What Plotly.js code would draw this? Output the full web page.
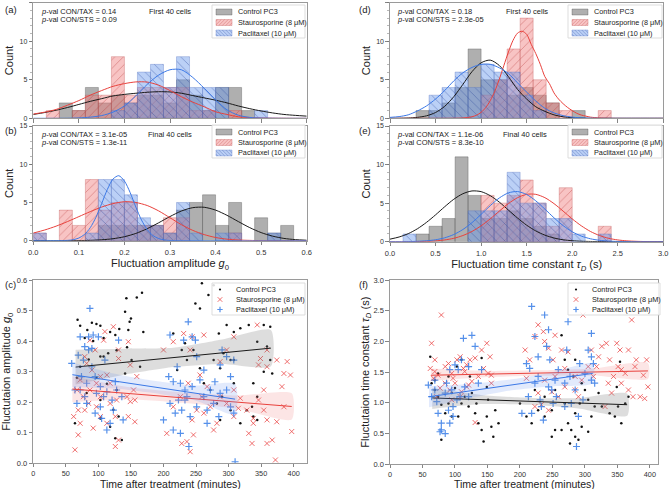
<!DOCTYPE html>
<html><head><meta charset="utf-8">
<script src="https://cdn.plot.ly/plotly-3.0.1.min.js"></script>
<style>html,body{margin:0;padding:0;background:#fff}#plot{width:669px;height:489px}</style>
</head><body><div id="plot"></div>
<script>
// ---------------- DATA ----------------
const seriesNames = ['Control PC3', 'Staurosporine (8 μM)', 'Paclitaxel (10 μM)'];
// histogram bins: 21 bins over each axis range
const g0BinCount = 21, g0Max = 0.6;
const tauBinCount = 21, tauMax = 3.0;

// (a) first 40 cells, amplitude g0 counts per bin
const ctrlA = [0,0,2,1,4,2,3,2,3,3,2,5,3,1,4,4,1,0,0,0,0];
const stsA  = [0,1,0,1,3,3,8,3,4,4,4,4,1,1,0,1,0,0,0,0,0];
const taxA  = [0,0,0,0,0,0,1,2,6,7,4,8,4,4,4,0,0,1,0,0,0];
// (b) final 40 cells
const ctrlB = [0,0,0,0,0,2,2,2,2,2,1,4,5,6,2,5,0,3,1,2,0];
const stsB  = [1,0,4,2,8,4,5,5,2,2,3,3,0,0,0,1,0,0,0,0,0];
const taxB  = [1,0,0,0,1,8,8,6,3,2,1,5,1,0,1,1,0,0,1,0,0];
// (d) first 40 cells, tau_D
const ctrlD = [0,0,1,1,2,4,9,5,5,3,4,3,2,0,1,0,0,0,0,0,0];
const stsD  = [0,0,0,0,0,0,0,3,5,9,13,5,2,1,0,0,1,0,0,0,0];
const taxD  = [0,0,0,3,4,6,4,7,6,6,3,1,0,0,0,0,0,0,0,0,0];
// (e) final 40 cells
const ctrlE = [0,0,1,2,3,11,6,3,3,4,3,2,1,0,0,0,0,0,0,0,0];
const stsE  = [0,0,0,0,0,0,0,6,5,6,8,5,2,7,0,0,2,0,0,0,0];
const taxE  = [0,1,0,0,0,0,4,4,4,9,5,5,3,3,1,0,1,0,0,0,0];

// fitted density curves
const fitGx = [0,.025,.05,.075,.1,.125,.15,.175,.2,.225,.25,.275,.3,.325,.35,.375,.4,.425,.45,.475,.5,.525,.55,.575,.6];
const fitA_ctrl = [0.5,0.75,1.05,1.4,1.8,2.2,2.55,2.9,3.1,3.25,3.38,3.45,3.42,3.25,2.95,2.65,2.35,2.0,1.6,1.25,0.95,0.7,0.5,0.38,0.28];
const fitA_sts  = [0.55,0.8,1.15,1.7,2.3,3.0,3.6,4.15,4.5,4.72,4.7,4.3,3.6,2.8,2.1,1.5,0.85,0.5,0.2,0.1,0.04,0.02,0.01,0,0];
const fitA_tax  = [0,0,0,0,0.05,0.15,0.35,0.8,1.6,2.9,4.4,5.6,6.3,6.3,5.3,3.9,2.4,1.1,0.4,0.12,0.03,0.01,0,0,0];
const fitB_ctrl = [0,0,0,0,0.02,0.05,0.12,0.26,0.52,0.95,1.57,2.34,3.16,3.88,4.32,4.37,4.0,3.32,2.5,1.71,1.06,0.6,0.3,0.14,0.06];
const fitB_sts  = [1.0,1.4,1.9,2.5,3.15,3.8,4.4,4.85,5.1,5.0,4.6,3.9,3.0,2.1,1.35,0.8,0.42,0.2,0.09,0.04,0.01,0,0,0,0];
const fitB_taxX = [0,.075,.0875,.1,.1125,.125,.1375,.15,.1625,.175,.1875,.2,.2125,.225,.2375,.25,.2625,.275,.2875,.3,.6];
const fitB_tax  = [0,0.04,0.13,0.35,0.82,1.7,3.06,4.85,6.7,8.07,8.5,7.8,6.3,4.4,2.7,1.45,0.68,0.28,0.1,0.03,0];

const fitTx = [0,.1,.2,.3,.4,.5,.6,.7,.8,.9,1.0,1.1,1.2,1.3,1.4,1.5,1.6,1.7,1.8,1.9,2.0,2.1,2.2,2.3,2.4,2.5,2.6,2.7,2.8,2.9,3.0];
const fitD_ctrl = [0,0.01,0.04,0.12,0.32,0.75,1.55,2.8,4.4,6.05,7.2,7.55,6.85,5.4,3.75,2.5,1.5,0.9,0.45,0.2,0.08,0.03,0,0,0,0,0,0,0,0,0];
const fitD_tax  = [0.12,0.22,0.45,0.95,1.6,2.5,3.6,4.85,5.9,6.6,7.0,7.0,6.55,5.8,4.6,3.4,2.25,1.3,0.7,0.35,0.15,0.06,0.02,0,0,0,0,0,0,0,0];
const fitD_stsX = [0,.7,.8,.9,.95,1.0,1.05,1.1,1.15,1.2,1.25,1.3,1.35,1.4,1.45,1.5,1.55,1.6,1.65,1.7,1.75,1.8,1.85,1.9,1.95,2.0,2.05,2.1,2.15,2.2,2.3,2.4,3.0];
const fitD_sts  = [0,0.006,0.04,0.2,0.4,0.77,1.38,2.28,3.5,5.08,6.85,8.6,10.1,11.05,11.3,10.9,9.6,8.4,7.0,5.4,4.5,3.3,2.5,1.9,1.4,1.0,0.65,0.42,0.28,0.15,0.05,0.01,0];
const fitE_ctrl = [0.33,0.61,1.04,1.67,2.5,3.48,4.53,5.5,6.22,6.58,6.49,5.97,5.13,4.1,3.07,2.14,1.4,0.85,0.48,0.25,0.13,0.06,0.03,0.01,0,0,0,0,0,0,0];
const fitE_tax  = [0,0,0.01,0.05,0.12,0.25,0.5,0.93,1.58,2.47,3.54,4.67,5.67,6.33,6.5,6.12,5.3,4.23,3.1,2.09,1.29,0.73,0.38,0.18,0.08,0.03,0.01,0,0,0,0];
const fitE_sts  = [0,0,0,0.01,0.05,0.11,0.23,0.44,0.8,1.33,2.06,2.96,3.97,4.94,5.71,6.14,6.14,5.71,4.94,3.97,2.96,2.06,1.33,0.8,0.44,0.23,0.11,0.05,0.02,0.01,0];

// p-values and annotations
const pvals = {a:['0.14','0.09'], b:['3.1e-05','1.3e-11'], d:['0.18','2.3e-05'], e:['1.1e-06','8.3e-10']};
const cellLabels = ['First 40 cells','Final 40 cells'];
const timeTitle = 'Time after treatment (minutes)';

// (c) scatter: [time (min), g0]
const ctrlC = [[68,.47],[72,.45],[83,.436],[90,.46],[97,.456],[103,.45],[79,.41],[108,.41],[118,.43],[126,.42],[132,.44],[143,.54],[141,.496],[148,.463],[150,.474],[146,.436],[159,.543],[167,.558],[169,.43],[144,.38],[128,.37],[115,.36],[103,.35],[85,.34],[72,.316],[67,.28],[97,.28],[113,.26],[128,.24],[82,.23],[103,.207],[123,.175],[131,.153],[118,.12],[126,.082],[136,.076],[108,.35],[151,.338],[164,.316],[141,.294],[92,.40],[64,.131],[103,.147],
[259,.589],[269,.551],[277,.583],[249,.523],[256,.507],[285,.425],[297,.453],[308,.43],[318,.442],[331,.453],[354,.453],[364,.447],[344,.398],[359,.382],[364,.338],[354,.3],[367,.294],[338,.262],[344,.218],[336,.185],[338,.153],[318,.131],[303,.174],[290,.218],[277,.338],[292,.36],[303,.338],[256,.311],[236,.338],[228,.371],[221,.305],[246,.371],[262,.262],[272,.24],[287,.311],[308,.338],[215,.425],[233,.393],[282,.196],[308,.262],[328,.174],[344,.142],[287,.142]];
const stsC = [[64,.044],[69,.093],[72,.131],[62,.153],[69,.174],[79,.174],[85,.196],[77,.218],[87,.24],[97,.262],[103,.284],[79,.349],[82,.327],[87,.403],[95,.371],[108,.403],[110,.431],[123,.447],[131,.371],[131,.343],[146,.398],[149,.322],[159,.284],[154,.24],[149,.202],[156,.207],[144,.218],[128,.207],[118,.196],[126,.153],[126,.055],[131,.076],[103,.218],[97,.185],[113,.131],[92,.115],[103,.153],[67,.24],[72,.273],[113,.289],[90,.305],[146,.153],[156,.136],[118,.262],
[200,.371],[215,.398],[231,.425],[244,.414],[262,.42],[241,.371],[256,.289],[238,.262],[226,.218],[215,.185],[205,.098],[228,.065],[236,.071],[246,.093],[241,.038],[262,.164],[272,.185],[287,.218],[297,.196],[308,.24],[318,.213],[282,.131],[277,.109],[308,.153],[315,.18],[328,.174],[338,.147],[331,.098],[336,.065],[346,.207],[354,.24],[359,.316],[346,.322],[349,.343],[359,.371],[344,.453],[374,.338],[385,.294],[390,.333],[395,.289],[382,.251],[385,.185],[397,.104],[374,.136],[367,.076],[359,.065],[372,.011],[354,.174],[359,.142],[338,.131],[287,.333],[297,.371],[308,.414],[267,.251],[259,.218],[251,.174],[244,.142]];
const taxC = [[59,.327],[69,.354],[72,.414],[79,.382],[85,.371],[90,.376],[87,.507],[92,.42],[100,.414],[74,.284],[82,.262],[95,.284],[103,.251],[97,.229],[108,.218],[113,.234],[103,.185],[105,.147],[113,.109],[118,.131],[123,.174],[131,.403],[128,.24],[121,.207],[95,.164],[82,.196],[72,.24],[67,.196],[126,.267],[136,.218],[138,.142],[77,.338],[90,.316],[110,.338],[64,.24],[85,.414],[79,.218],
[210,.42],[208,.284],[215,.267],[221,.316],[226,.262],[233,.24],[238,.463],[244,.414],[249,.403],[251,.349],[233,.207],[228,.174],[218,.164],[210,.196],[200,.142],[215,.109],[226,.098],[239,.055],[241,.153],[251,.185],[262,.218],[272,.24],[279,.267],[287,.322],[290,.371],[297,.349],[308,.338],[303,.284],[297,.24],[287,.229],[277,.196],[267,.174],[303,.185],[308,.164],[310,.005],[256,.273],[262,.305],[231,.403],[236,.218],[244,.251],[285,.153],[267,.131],[223,.207]];

// (f) scatter: [time (min), tau_D (s)]
const ctrlF = [[62,1.75],[64,1.32],[69,1.21],[74,1.1],[79,.97],[85,.83],[79,.4],[90,.99],[95,1.16],[100,1.24],[105,.78],[110,.99],[115,1.1],[121,.94],[126,1.16],[131,.83],[136,.67],[141,.56],[144,.37],[149,.78],[151,1.05],[156,.61],[159,.45],[162,.88],[167,.67],[123,1.43],[110,1.7],[103,1.59],[90,1.43],[74,1.48],[69,1.37],[95,.78],[133,.99],[149,1.26],[141,1.73],
[200,.99],[210,.78],[218,.67],[228,.88],[238,.78],[249,.88],[254,.56],[264,.56],[274,.67],[279,.56],[285,.45],[290,.4],[295,.61],[305,.53],[310,.78],[315,.94],[300,1.21],[295,1.32],[282,1.43],[274,1.54],[264,2.1],[269,1.7],[285,1.7],[292,.99],[305,1.05],[321,1.16],[326,.94],[338,.83],[346,.78],[351,.94],[356,.67],[362,.99],[367,1.1],[354,1.67],[349,1.26],[238,1.1],[223,1.21],[254,1.21],[269,.99],[285,.83],[249,.45],[277,.34]];
const stsF = [[64,1.97],[62,1.56],[69,1.7],[67,1.4],[74,1.45],[79,2.43],[85,1.59],[90,1.64],[95,1.48],[103,1.7],[108,1.75],[113,1.56],[118,1.62],[123,1.7],[131,1.73],[141,1.86],[149,1.97],[154,1.75],[156,1.45],[144,1.56],[136,1.43],[126,1.35],[118,1.26],[110,1.18],[100,1.32],[92,1.21],[85,1.32],[77,1.24],[72,1.1],[95,1.05],[108,1.1],[121,1.29],[131,.68],[69,1.51],[97,1.4],[115,1.51],[151,1.48],[156,1.32],
[208,1.86],[215,1.7],[210,1.4],[223,2.08],[228,2.27],[236,2.16],[238,2.0],[244,1.89],[251,1.7],[254,2.1],[264,1.86],[274,1.83],[269,1.56],[254,1.43],[238,1.37],[228,1.16],[233,.97],[244,.88],[259,1.1],[269,1.26],[285,1.43],[295,1.37],[297,2.43],[285,1.21],[290,1.1],[305,1.59],[310,1.86],[313,1.43],[321,1.75],[326,1.92],[333,1.97],[338,1.7],[344,1.43],[349,1.97],[354,1.86],[356,1.54],[362,1.48],[367,1.21],[372,2.35],[379,1.7],[385,1.1],[390,1.45],[395,1.7],[397,1.26],[374,1.1],[367,1.86],[351,1.59],[341,1.16],[331,.94],[318,1.59],[336,1.32],[356,1.32],[377,1.59],[392,1.07],[249,1.18],[223,.94]];
const taxF = [[59,1.29],[64,1.1],[69,1.21],[72,1.02],[74,.83],[79,.67],[77,.53],[85,.5],[79,.56],[85,1.16],[90,.88],[92,.67],[97,.78],[97,.94],[103,1.05],[105,1.54],[110,1.7],[113,2.05],[115,1.26],[126,2.1],[131,1.92],[136,1.32],[141,1.54],[121,1.59],[100,1.62],[92,1.54],[87,1.32],[69,1.37],[95,1.21],[108,1.1],[121,1.1],
[203,.83],[210,1.64],[215,1.56],[218,2.57],[223,2.08],[228,1.75],[231,1.05],[236,.72],[238,2.43],[244,2.19],[241,1.92],[246,1.7],[249,1.21],[254,1.37],[251,.99],[256,1.1],[259,1.54],[269,1.32],[272,1.86],[274,2.32],[277,1.43],[285,1.21],[292,1.64],[297,1.05],[305,1.86],[310,2.13],[313,1.64],[287,.29],[290,.78],[310,1.37],[315,1.32],[223,1.32],[233,.94],[244,1.26],[213,1.1],[218,.83],[228,1.43],[269,.94],[279,.99],[300,1.48],[310,1.75]];

// regression lines with confidence bands: time, fit, lower, upper
const regC_ctrl = {t:[65,140,215,290,365], fit:[.315,.33,.346,.361,.377], lo:[.258,.29,.315,.325,.318], hi:[.372,.375,.378,.405,.436]};
const regC_sts  = {t:[60,145,230,315,397], fit:[.243,.229,.214,.200,.186], lo:[.2,.21,.198,.178,.143], hi:[.285,.25,.232,.222,.229]};
const regC_tax  = {t:[60,125,185,250,310], fit:[.29,.269,.25,.229,.21], lo:[.25,.245,.23,.205,.16], hi:[.33,.293,.27,.255,.26]};
const regF_ctrl = {t:[65,140,215,290,365], fit:[1.08,1.053,1.025,.998,.97], lo:[.9,.98,.97,.91,.79], hi:[1.24,1.13,1.08,1.08,1.15]};
const regF_sts  = {t:[63,150,230,315,397], fit:[1.45,1.468,1.485,1.503,1.52], lo:[1.36,1.42,1.44,1.445,1.39], hi:[1.56,1.52,1.53,1.56,1.65]};
const regF_tax  = {t:[60,125,185,250,312], fit:[1.1,1.198,1.289,1.387,1.48], lo:[.93,1.08,1.2,1.27,1.32], hi:[1.27,1.31,1.38,1.5,1.64]};

// ---------------- STYLE ----------------
const W = 669, H = 489;
const FONT = 'Liberation Sans, Arial, sans-serif';
const COL = {
  ctrlBar:'rgba(110,110,110,0.55)', ctrlEdge:'rgba(70,70,70,0.55)',
  stsBar:'rgba(240,125,125,0.45)', stsHatch:'rgba(180,50,50,0.6)', stsEdge:'rgba(190,80,80,0.55)',
  taxBar:'rgba(105,150,235,0.45)', taxHatch:'rgba(35,65,150,0.6)', taxEdge:'rgba(80,110,190,0.55)',
  ctrlLine:'#1a1a1a', stsLine:'#e8413c', taxLine:'#3b78e6',
  stsMark:'rgba(235,70,70,0.78)', taxMark:'rgba(55,125,230,0.85)'
};

const traces = [];
function hist(series, nb, max, xa, ya){
  const w = max / nb;
  const xs = series[0].map((_, i) => (i + 0.5) * w);
  const nz = c => c.map(v => v === 0 ? null : v);
  const styles = [
    {color: COL.ctrlBar, line:{color:COL.ctrlEdge, width:0.6}},
    {color: COL.stsBar, line:{color:COL.stsEdge, width:0.6}, pattern:{shape:'/', fgcolor:COL.stsHatch, bgcolor:COL.stsBar, size:6, solidity:0.1}},
    {color: COL.taxBar, line:{color:COL.taxEdge, width:0.6}, pattern:{shape:'\\', fgcolor:COL.taxHatch, bgcolor:COL.taxBar, size:6, solidity:0.1}}
  ];
  series.forEach((c, k) => traces.push({type:'bar', x:xs, y:nz(c), width:w, marker:styles[k], name:seriesNames[k],
    xaxis:xa, yaxis:ya, showlegend:false, hoverinfo:'skip'}));
}
function curve(x, y, color, xa, ya){
  traces.push({type:'scatter', mode:'lines', x, y, line:{color, width:1, shape:'spline', smoothing:0.8}, xaxis:xa, yaxis:ya, showlegend:false, hoverinfo:'skip'});
}
function scatter(pts, k, xa, ya){
  const mk = [
    {symbol:'circle', size:2.5, color:'#111'},
    {symbol:'x-thin-open', size:5, color:COL.stsMark, line:{color:COL.stsMark, width:1}},
    {symbol:'cross-thin-open', size:5, color:COL.taxMark, line:{color:COL.taxMark, width:1.2}}
  ][k];
  traces.push({type:'scatter', mode:'markers', x:pts.map(p=>p[0]), y:pts.map(p=>p[1]), marker:mk, name:seriesNames[k],
    xaxis:xa, yaxis:ya, showlegend:false, hoverinfo:'skip'});
}
function reg(r, line, fill, xa, ya){
  traces.push({type:'scatter', mode:'lines', x:r.t.concat(r.t.slice().reverse()), y:r.hi.concat(r.lo.slice().reverse()),
    fill:'toself', fillcolor:fill, line:{width:0, shape:'spline', smoothing:0.6}, xaxis:xa, yaxis:ya, showlegend:false, hoverinfo:'skip'});
  traces.push({type:'scatter', mode:'lines', x:r.t, y:r.fit, line:{color:line, width:1}, xaxis:xa, yaxis:ya, showlegend:false, hoverinfo:'skip'});
}

// (a)
hist([ctrlA, stsA, taxA], g0BinCount, g0Max, 'x', 'y');
curve(fitGx, fitA_ctrl, COL.ctrlLine, 'x', 'y');
curve(fitGx, fitA_sts, COL.stsLine, 'x', 'y');
curve(fitGx, fitA_tax, COL.taxLine, 'x', 'y');
// (b)
hist([ctrlB, stsB, taxB], g0BinCount, g0Max, 'x2', 'y2');
curve(fitGx, fitB_ctrl, COL.ctrlLine, 'x2', 'y2');
curve(fitGx, fitB_sts, COL.stsLine, 'x2', 'y2');
curve(fitB_taxX, fitB_tax, COL.taxLine, 'x2', 'y2');
// (c)
scatter(ctrlC, 0, 'x3', 'y3');
scatter(stsC, 1, 'x3', 'y3');
scatter(taxC, 2, 'x3', 'y3');
reg(regC_ctrl, COL.ctrlLine, 'rgba(120,120,120,0.25)', 'x3', 'y3');
reg(regC_sts, COL.stsLine, 'rgba(240,110,110,0.18)', 'x3', 'y3');
reg(regC_tax, COL.taxLine, 'rgba(110,150,240,0.2)', 'x3', 'y3');
// (d)
hist([ctrlD, stsD, taxD], tauBinCount, tauMax, 'x4', 'y4');
curve(fitTx, fitD_ctrl, COL.ctrlLine, 'x4', 'y4');
curve(fitD_stsX, fitD_sts, COL.stsLine, 'x4', 'y4');
curve(fitTx, fitD_tax, COL.taxLine, 'x4', 'y4');
// (e)
hist([ctrlE, stsE, taxE], tauBinCount, tauMax, 'x5', 'y5');
curve(fitTx, fitE_ctrl, COL.ctrlLine, 'x5', 'y5');
curve(fitTx, fitE_sts, COL.stsLine, 'x5', 'y5');
curve(fitTx, fitE_tax, COL.taxLine, 'x5', 'y5');
// (f)
scatter(ctrlF, 0, 'x6', 'y6');
scatter(stsF, 1, 'x6', 'y6');
scatter(taxF, 2, 'x6', 'y6');
reg(regF_ctrl, COL.ctrlLine, 'rgba(120,120,120,0.25)', 'x6', 'y6');
reg(regF_sts, COL.stsLine, 'rgba(240,110,110,0.18)', 'x6', 'y6');
reg(regF_tax, COL.taxLine, 'rgba(110,150,240,0.2)', 'x6', 'y6');

// ---------------- LAYOUT ----------------
const px = v => v / W, py = v => 1 - v / H;
const base = {showline:true, mirror:true, linecolor:'#9a9a9a', linewidth:1.1, ticks:'outside', ticklen:3.5, tickwidth:0.8,
  tickcolor:'#666', tickfont:{size:7.5, color:'#333', family:FONT}, zeroline:false, showgrid:false, automargin:false, fixedrange:true};
const titleFont = {size:11, color:'#222', family:FONT};
const countAx = (dom, shift) => Object.assign({}, base, {domain:dom, range:[0,15], tickvals:[0,5,10,15],
  tickfont:{size:7, color:'#333', family:FONT}, ticklabelshift:shift,
  minor:{dtick:1, ticks:'outside', ticklen:2, tickcolor:'#888', tickwidth:0.6},
  title:{text:'Count', font:titleFont, standoff:3}});
const g0Ax = (dom, labels, anchor) => Object.assign({}, base, {domain:dom, range:[0,0.6], dtick:0.1, tickformat:'.1f', showticklabels:labels, anchor});
const tauAx = (dom, labels, anchor) => Object.assign({}, base, {domain:dom, range:[0,3], dtick:0.5, tickformat:'.1f', showticklabels:labels, anchor});
const timeAx = (dom, range, anchor) => Object.assign({}, base, {domain:dom, range, dtick:50, anchor, ticklen:3,
  tickfont:{size:7.3, color:'#333', family:FONT}});

const leftX = [px(33.3), px(306.7)], rightX = [px(390), px(663.3)];
const layout = {
  width:W, height:H, margin:{l:0, r:0, t:0, b:0}, paper_bgcolor:'#fff', plot_bgcolor:'#fff',
  barmode:'overlay', bargap:0, font:{family:FONT, color:'#222'}, showlegend:false,
  xaxis: g0Ax(leftX, false, 'y'),
  yaxis: Object.assign(countAx([py(118.3), py(2.7)], 1.5), {anchor:'x'}),
  xaxis2: Object.assign(g0Ax(leftX, true, 'y2'), {ticklabelstandoff:1, title:{text:'Fluctuation amplitude <i>g</i><sub>0</sub>', font:titleFont, standoff:0}}),
  yaxis2: Object.assign(countAx([py(240.7), py(126)], -1.5), {anchor:'x2'}),
  xaxis3: timeAx(leftX, [0,420], 'y3'),
  yaxis3: Object.assign({}, base, {domain:[py(463.3), py(280)], range:[0,0.6], dtick:0.1, tickformat:'.1f', anchor:'x3',
    title:{text:'Fluctutaion amplitude <i>g</i><sub>0</sub>', font:titleFont, standoff:3}}),
  xaxis4: tauAx(rightX, false, 'y4'),
  yaxis4: Object.assign(countAx([py(118.3), py(2.7)], 1.5), {anchor:'x4'}),
  xaxis5: Object.assign(tauAx(rightX, true, 'y5'), {ticklabelstandoff:1, title:{text:'Fluctuation time constant <i>τ<sub>D</sub></i> (s)', font:titleFont, standoff:0}}),
  yaxis5: Object.assign(countAx([py(241.7), py(126)], -1.5), {anchor:'x5'}),
  xaxis6: timeAx([px(390), px(657.7)], [0,412], 'y6'),
  yaxis6: Object.assign({}, base, {domain:[py(464.3), py(280)], range:[0,3], dtick:0.5, tickformat:'.1f', anchor:'x6',
    title:{text:'Fluctutaion time constant <i>τ<sub>D</sub></i> (s)', font:titleFont, standoff:1}}),
  annotations: [],
  shapes: []
};

function ann(text, x, y, opts){
  layout.annotations.push(Object.assign({text, x:px(x), y:py(y), xref:'paper', yref:'paper', showarrow:false,
    xanchor:'left', yanchor:'middle', font:{size:7.5, color:'#222', family:FONT}}, opts || {}));
}
function rect(x0, y0, x1, y1, fill, line, lw){
  layout.shapes.push({type:'rect', xref:'paper', yref:'paper', x0:px(x0), x1:px(x1), y0:py(y1), y1:py(y0),
    fillcolor:fill, line:{color:line, width:lw}, layer:'above'});
}
function pathShape(d, color, lw){
  layout.shapes.push({type:'path', xref:'paper', yref:'paper', path:d, line:{color, width:lw}, layer:'above'});
}
function hatch(x0, y0, x1, y1, dir, step){
  let d = '';
  const P = (x, y) => px(x).toFixed(5) + ',' + py(y).toFixed(5);
  if (dir === '/') {
    for (let k = x0 + y0 + step / 2; k < x1 + y1; k += step) {
      const xa = Math.max(x0, k - y1), xb = Math.min(x1, k - y0);
      if (xb > xa) d += 'M' + P(xa, k - xa) + 'L' + P(xb, k - xb);
    }
  } else {
    for (let k = x0 - y1 + step / 2; k < x1 - y0; k += step) {
      const xa = Math.max(x0, k + y0), xb = Math.min(x1, k + y1);
      if (xb > xa) d += 'M' + P(xa, xa - k) + 'L' + P(xb, xb - k);
    }
  }
  return d;
}
const legFont = {size:7.3, color:'#222', family:FONT};
// legend for histogram panels (box in pixel coords)
function histLegend(bx0, by0, bx1, by1){
  rect(bx0, by0, bx1, by1, 'rgba(255,255,255,0.85)', '#d4d4d4', 0.8);
  const sx0 = bx0 + 4, sx1 = bx0 + 20, tx = bx0 + 24;
  const ys = [by0 + 7, by0 + 17.5, by0 + 28];
  rect(sx0, ys[0] - 3, sx1, ys[0] + 3, COL.ctrlBar, COL.ctrlEdge, 0.6);
  rect(sx0, ys[1] - 3, sx1, ys[1] + 3, COL.stsBar, COL.stsEdge, 0.6);
  pathShape(hatch(sx0, ys[1] - 3, sx1, ys[1] + 3, '/', 3.5), COL.stsHatch, 0.5);
  rect(sx0, ys[2] - 3, sx1, ys[2] + 3, COL.taxBar, COL.taxEdge, 0.6);
  pathShape(hatch(sx0, ys[2] - 3, sx1, ys[2] + 3, '\\', 3.5), COL.taxHatch, 0.5);
  ys.forEach((y, k) => ann(seriesNames[k], tx, y, {font:legFont}));
}
// legend for scatter panels
function scatLegend(bx0, by0, bx1, by1){
  rect(bx0, by0, bx1, by1, 'rgba(255,255,255,0.85)', '#d4d4d4', 0.8);
  const sx = bx0 + 8, tx = bx0 + 22;
  const ys = [by0 + 6.5, by0 + 16.5, by0 + 26.5];
  layout.shapes.push({type:'circle', xref:'paper', yref:'paper', x0:px(sx - 1.1), x1:px(sx + 1.1), y0:py(ys[0] + 1.1), y1:py(ys[0] - 1.1),
    fillcolor:'#111', line:{width:0}, layer:'above'});
  const r = 2.3;
  const P = (x, y) => px(x).toFixed(5) + ',' + py(y).toFixed(5);
  pathShape('M' + P(sx - r, ys[1] - r) + 'L' + P(sx + r, ys[1] + r) + 'M' + P(sx - r, ys[1] + r) + 'L' + P(sx + r, ys[1] - r), COL.stsMark, 1);
  pathShape('M' + P(sx - r - 0.4, ys[2]) + 'L' + P(sx + r + 0.4, ys[2]) + 'M' + P(sx, ys[2] - r - 0.4) + 'L' + P(sx, ys[2] + r + 0.4), COL.taxMark, 1.2);
  ys.forEach((y, k) => ann(seriesNames[k], tx, y, {font:legFont}));
}
histLegend(212, 5, 305, 38);
histLegend(212, 125, 305, 158);
histLegend(568, 5, 662, 38);
histLegend(568, 125, 662, 158);
scatLegend(212, 283, 305, 315);
scatLegend(568, 283, 660, 315);

// bottom x-axis titles of the scatter panels
const timeTitleFont = {size:10.5, color:'#222', family:FONT};
ann(timeTitle, 170, 483.5, {xanchor:'center', font:timeTitleFont});
ann(timeTitle, 524, 483.5, {xanchor:'center', font:timeTitleFont});

// panel labels
[['(a)',3,9],['(b)',3,131],['(c)',3,284],['(d)',357,9],['(e)',357,131],['(f)',357,284]].forEach(p =>
  ann(p[0], p[1], p[2], {font:{size:9.5, color:'#222', family:FONT}}));
// p-values and cell labels
function pv(key, x, y){
  ann('<i>p</i>-val CON/TAX = ' + pvals[key][0], x, y);
  ann('<i>p</i>-val CON/STS = ' + pvals[key][1], x, y + 7.6);
}
pv('a', 39, 11.5); pv('b', 39, 135); pv('d', 395, 11.5); pv('e', 395, 135);
ann(cellLabels[0], 170, 11, {xanchor:'center'});
ann(cellLabels[1], 170, 134, {xanchor:'center'});
ann(cellLabels[0], 527, 11, {xanchor:'center'});
ann(cellLabels[1], 525, 134, {xanchor:'center'});

Plotly.newPlot('plot', traces, layout, {displayModeBar:false, staticPlot:true});
</script></body></html>
